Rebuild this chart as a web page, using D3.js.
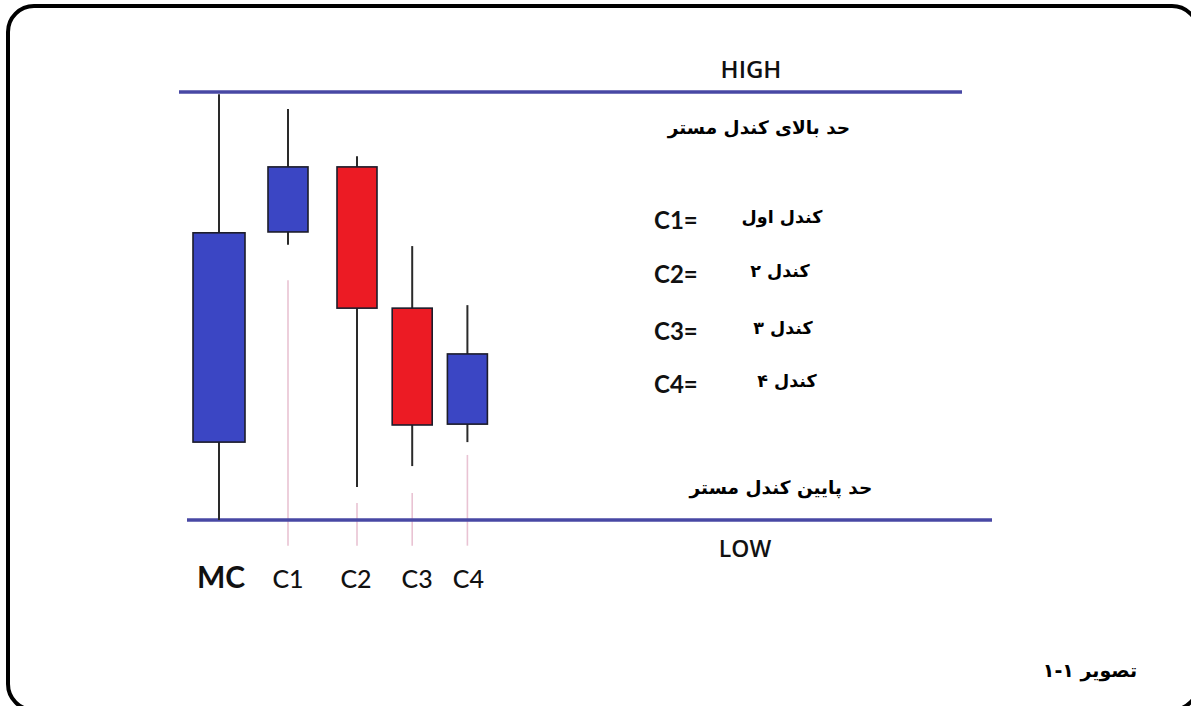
<!DOCTYPE html>
<html>
<head>
<meta charset="utf-8">
<script src="https://cdn.jsdelivr.net/npm/d3@7"></script>
<style>
  html, body { margin: 0; padding: 0; background: #fff; }
  svg { display: block; }
</style>
</head>
<body>
<svg id="chart" width="1191" height="706"></svg>
<script>
// ---- data ----
const categories = ["MC", "C1", "C2", "C3", "C4"];
const slots      = [0, 1, 2, 2.8, 3.6];          // candle slot index on the time axis
const opens      = [18.2, 67.3, 82.5, 49.5, 22.4];
const closes     = [67.1, 82.5, 49.5, 22.2, 38.8];
const highs      = [99.5, 96.0, 85.0, 64.0, 50.2];
const lows       = [0.0, 64.3, 7.7, 12.6, 18.2];
const guideTops  = [null, 56.0, 4.0, 6.3, 15.2];   // faint pink guide lines under C1..C4
const guideBottom = -6;
const levelValues = [100, 0];
const levelNames  = ["HIGH", "LOW"];
const levelNotes  = ["حد بالای کندل مستر", "حد پایین کندل مستر"];
const legendKeys  = ["C1=", "C2=", "C3=", "C4="];
const legendNames = ["کندل اول", "کندل ۲", "کندل ۳", "کندل ۴"];
const caption     = "تصویر ۱-۱";

// ---- drawing ----
const svg = d3.select("#chart");

// frame
svg.append("rect")
  .attr("x", 8).attr("y", 6)
  .attr("width", 1190).attr("height", 704)
  .attr("rx", 26).attr("ry", 26)
  .attr("fill", "#fff").attr("stroke", "#000").attr("stroke-width", 4);

const y = d3.scaleLinear().domain([0, 100]).range([520, 92]);
const x = d3.scaleLinear().domain([0, 1]).range([219, 288]);

const candles = categories.map((c, i) => ({
  name: c, slot: slots[i], open: opens[i], close: closes[i],
  high: highs[i], low: lows[i], guide: guideTops[i]
}));

// guide lines
svg.append("g").selectAll("line")
  .data(candles.filter(d => d.guide !== null))
  .join("line")
  .attr("x1", d => x(d.slot)).attr("x2", d => x(d.slot))
  .attr("y1", d => y(d.guide)).attr("y2", y(guideBottom))
  .attr("stroke", "#e9c3d3").attr("stroke-width", 1.6);

// level lines
const levelX = [[179, 962], [187, 992]];
svg.append("g").selectAll("line")
  .data(levelValues)
  .join("line")
  .attr("x1", (d, i) => levelX[i][0]).attr("x2", (d, i) => levelX[i][1])
  .attr("y1", d => y(d)).attr("y2", d => y(d))
  .attr("stroke", "#4848a4").attr("stroke-width", 3.5);

// wicks
svg.append("g").selectAll("line")
  .data(candles)
  .join("line")
  .attr("x1", d => x(d.slot)).attr("x2", d => x(d.slot))
  .attr("y1", d => y(d.high)).attr("y2", d => y(d.low))
  .attr("stroke", "#2a2a2a").attr("stroke-width", 2);

// bodies
const bodyW = d => d.name === "MC" ? 52 : 40;
svg.append("g").selectAll("rect")
  .data(candles)
  .join("rect")
  .attr("x", d => x(d.slot) - bodyW(d) / 2)
  .attr("width", d => bodyW(d))
  .attr("y", d => y(Math.max(d.open, d.close)))
  .attr("height", d => Math.abs(y(d.open) - y(d.close)))
  .attr("fill", d => d.close >= d.open ? "#3b46c4" : "#ec1b24")
  .attr("stroke", "#1c1c2a").attr("stroke-width", 1.6);

// category labels
const labelShift = [2, 0, -1, 5, 1];
svg.append("g").selectAll("text")
  .data(candles)
  .join("text")
  .attr("x", (d, i) => x(d.slot) + labelShift[i])
  .attr("y", 588)
  .attr("text-anchor", "middle")
  .attr("font-family", "Lato, 'Open Sans', sans-serif")
  .attr("font-weight", d => d.name === "MC" ? 700 : 500)
  .attr("font-size", d => d.name === "MC" ? 30 : 25)
  .attr("fill", "#111")
  .text(d => d.name);

// level names
svg.append("text").attr("x", 751).attr("y", 78)
  .attr("text-anchor", "middle").attr("font-family", "'Open Sans', Lato, sans-serif")
  .attr("font-weight", 600).attr("font-size", 24).attr("fill", "#111")
  .text(levelNames[0]);
svg.append("text").attr("x", 745).attr("y", 557)
  .attr("text-anchor", "middle").attr("font-family", "'Open Sans', Lato, sans-serif")
  .attr("font-weight", 600).attr("font-size", 23).attr("fill", "#111")
  .text(levelNames[1]);

// Persian notes
const faFont = "'DejaVu Sans', 'Noto Sans', sans-serif";
svg.append("text").attr("x", 759).attr("y", 134)
  .attr("text-anchor", "middle").attr("font-family", faFont)
  .attr("font-weight", 700).attr("font-size", 18.5).attr("fill", "#000")
  .text(levelNotes[0]);
svg.append("text").attr("x", 781).attr("y", 494)
  .attr("text-anchor", "middle").attr("font-family", faFont)
  .attr("font-weight", 700).attr("font-size", 18.5).attr("fill", "#000")
  .text(levelNotes[1]);

// legend
const legendY = [229, 283, 340, 393];
const lg = svg.append("g");
lg.selectAll("text.key")
  .data(legendKeys)
  .join("text").attr("class", "key")
  .attr("x", 654).attr("y", (d, i) => legendY[i])
  .attr("font-family", "Lato, 'Open Sans', sans-serif")
  .attr("font-weight", 700).attr("font-size", 24).attr("fill", "#111")
  .text(d => d);
lg.selectAll("text.name")
  .data(legendNames)
  .join("text").attr("class", "name")
  .attr("x", (d, i) => [782, 780, 783, 787][i]).attr("y", (d, i) => legendY[i] - 6)
  .attr("text-anchor", "middle")
  .attr("font-family", faFont)
  .attr("font-weight", 700).attr("font-size", 17.5).attr("fill", "#000")
  .text(d => d);

// caption
svg.append("text").attr("x", 1090).attr("y", 677)
  .attr("text-anchor", "middle").attr("font-family", faFont)
  .attr("font-weight", 700).attr("font-size", 19).attr("fill", "#000")
  .text(caption);
</script>
</body>
</html>
